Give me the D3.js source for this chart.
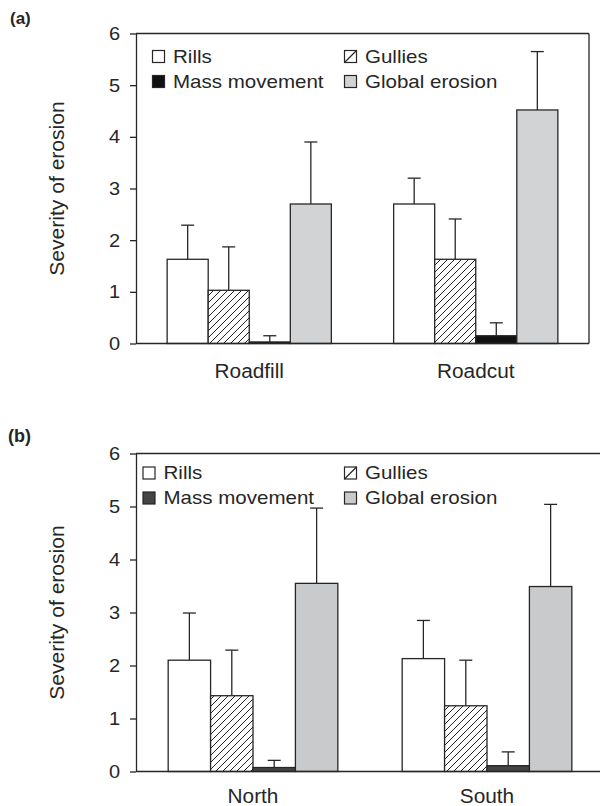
<!DOCTYPE html>
<html><head><meta charset="utf-8">
<script src="https://cdn.jsdelivr.net/npm/d3@7"></script>
<style>body{margin:0;background:#fff} svg{display:block;font-family:"Liberation Sans",Arial,Helvetica,sans-serif}</style>
</head><body><svg id="c" width="600" height="806"></svg>
<script>
// ---- data ----
const series = ["Rills", "Gullies", "Mass movement", "Global erosion"];
const yTicks = [0, 1, 2, 3, 4, 5, 6];

const catsA = ["Roadfill", "Roadcut"];
const rillsA = [1.63, 2.70],   rillsErrA = [0.66, 0.50];
const gulliesA = [1.03, 1.63], gulliesErrA = [0.84, 0.78];
const massA = [0.03, 0.15],    massErrA = [0.12, 0.25];
const globalA = [2.70, 4.52],  globalErrA = [1.20, 1.13];

const catsB = ["North", "South"];
const rillsB = [2.10, 2.13],   rillsErrB = [0.89, 0.72];
const gulliesB = [1.43, 1.24], gulliesErrB = [0.86, 0.86];
const massB = [0.075, 0.11],   massErrB = [0.135, 0.26];
const globalB = [3.55, 3.49],  globalErrB = [1.42, 1.55];

// ---- layout ----
const panels = [
  {label: "(a)", lx: 10, ly: 24, lsize: 17, cats: catsA,
   vals: [rillsA, gulliesA, massA, globalA], errs: [rillsErrA, gulliesErrA, massErrA, globalErrA],
   x0: 136, x1: 589, top: 33.5, bot: 343.5, box: true, catDy: 34,
   fills: ["#ffffff", "url(#hatch)", "#111111", "#d2d3d5"],
   legX: 152.5, legX2: 344.5, legY: 50.5, legY2: 75.5},
  {label: "(b)", lx: 8, ly: 442, lsize: 18, cats: catsB,
   vals: [rillsB, gulliesB, massB, globalB], errs: [rillsErrB, gulliesErrB, massErrB, globalErrB],
   x0: 136, x1: 604, top: 453.5, bot: 771.5, box: false, catDy: 31.5,
   fills: ["#ffffff", "url(#hatch)", "#444444", "#c9cacc"],
   legX: 143, legX2: 344.5, legY: 467, legY2: 492}
];

const svg = d3.select("#c");
const ink = "#262626";

const defs = svg.append("defs");
const pat = defs.append("pattern").attr("id", "hatch").attr("patternUnits", "userSpaceOnUse")
  .attr("width", 7).attr("height", 7);
pat.append("rect").attr("width", 7).attr("height", 7).attr("fill", "#fff");
pat.append("path").attr("d", "M-1,8 L8,-1 M-1,1 L1,-1 M6,8 L8,6")
  .attr("stroke", "#222").attr("stroke-width", 1);

function stretch(sel, k) {
  sel.each(function () {
    const L = this.getComputedTextLength();
    this.setAttribute("textLength", L * k);
    this.setAttribute("lengthAdjust", "spacingAndGlyphs");
  });
}

panels.forEach(p => {
  const g = svg.append("g");
  const y = d3.scaleLinear().domain([0, 6]).range([p.bot, p.top]);
  const x = d3.scaleBand().domain(p.cats).range([p.x0, p.x1]).paddingInner(0.275).paddingOuter(0.1375);
  const xs = d3.scaleBand().domain(series).range([0, x.bandwidth()]);

  // panel label
  g.append("text").attr("x", p.lx).attr("y", p.ly).attr("font-size", p.lsize).attr("font-weight", "bold")
    .attr("fill", ink).text(p.label);

  // frame
  g.append("line").attr("x1", p.x0).attr("x2", p.x1).attr("y1", p.top).attr("y2", p.top)
    .attr("stroke", ink).attr("stroke-width", 1.3);
  if (p.box) g.append("line").attr("x1", p.x1).attr("x2", p.x1).attr("y1", p.top).attr("y2", p.bot)
    .attr("stroke", ink).attr("stroke-width", 1.3);

  // y axis
  const ya = g.append("g").attr("transform", `translate(${p.x0},0)`)
    .call(d3.axisLeft(y).tickValues(yTicks).tickSize(6).tickSizeOuter(0).tickPadding(10).tickFormat(d3.format("d")));
  ya.select(".domain").attr("stroke", ink).attr("stroke-width", 1.3);
  ya.selectAll(".tick line").attr("stroke", ink).attr("stroke-width", 1.3);
  ya.selectAll(".tick text").attr("font-size", 18.5).attr("fill", ink).attr("font-family", null)
    .call(stretch, 1.08);

  // y title
  g.append("text").attr("transform", `translate(64,${(p.top + p.bot) / 2}) rotate(-90)`)
    .attr("text-anchor", "middle").attr("font-size", 19.5).attr("fill", ink)
    .text("Severity of erosion").call(stretch, 1.08);

  // bars
  series.forEach((s, si) => {
    p.cats.forEach((c, ci) => {
      const v = p.vals[si][ci], e = p.errs[si][ci];
      const bx = x(c) + xs(s), bw = xs.bandwidth(), cx = bx + bw / 2;
      g.append("line").attr("x1", cx).attr("x2", cx).attr("y1", y(v)).attr("y2", y(v + e))
        .attr("stroke", ink).attr("stroke-width", 1.3);
      g.append("line").attr("x1", cx - 6.5).attr("x2", cx + 6.5).attr("y1", y(v + e)).attr("y2", y(v + e))
        .attr("stroke", ink).attr("stroke-width", 1.3);
      g.append("rect").attr("x", bx).attr("y", y(v)).attr("width", bw).attr("height", y(0) - y(v))
        .attr("fill", p.fills[si]).attr("stroke", ink).attr("stroke-width", 1.3);
    });
  });

  // x axis
  const xa = g.append("g").attr("transform", `translate(0,${p.bot})`)
    .call(d3.axisBottom(x).tickSize(0).tickSizeOuter(0).tickPadding(0));
  xa.select(".domain").attr("stroke", ink).attr("stroke-width", 1.3)
    .attr("d", `M${p.x0},0H${p.x1}`);
  xa.selectAll(".tick text").attr("y", p.catDy).attr("dy", null).attr("font-size", 20).attr("fill", ink)
    .attr("font-family", null).call(stretch, 1.04);

  // legend
  const pos = [[p.legX, p.legY], [p.legX2, p.legY], [p.legX, p.legY2], [p.legX2, p.legY2]];
  series.forEach((s, si) => {
    const [lx, ly] = pos[si];
    g.append("rect").attr("x", lx).attr("y", ly).attr("width", 12).attr("height", 12)
      .attr("fill", si === 1 ? "#fff" : p.fills[si]).attr("stroke", ink).attr("stroke-width", 1.2);
    if (si === 1) g.append("path").attr("d", `M${lx},${ly + 12}L${lx + 12},${ly}`)
      .attr("stroke", ink).attr("stroke-width", 1.2);
    g.append("text").attr("x", lx + 20.5).attr("y", ly + 12).attr("font-size", 19).attr("fill", ink)
      .text(s).call(stretch, 1.08);
  });
});
</script></body></html>
